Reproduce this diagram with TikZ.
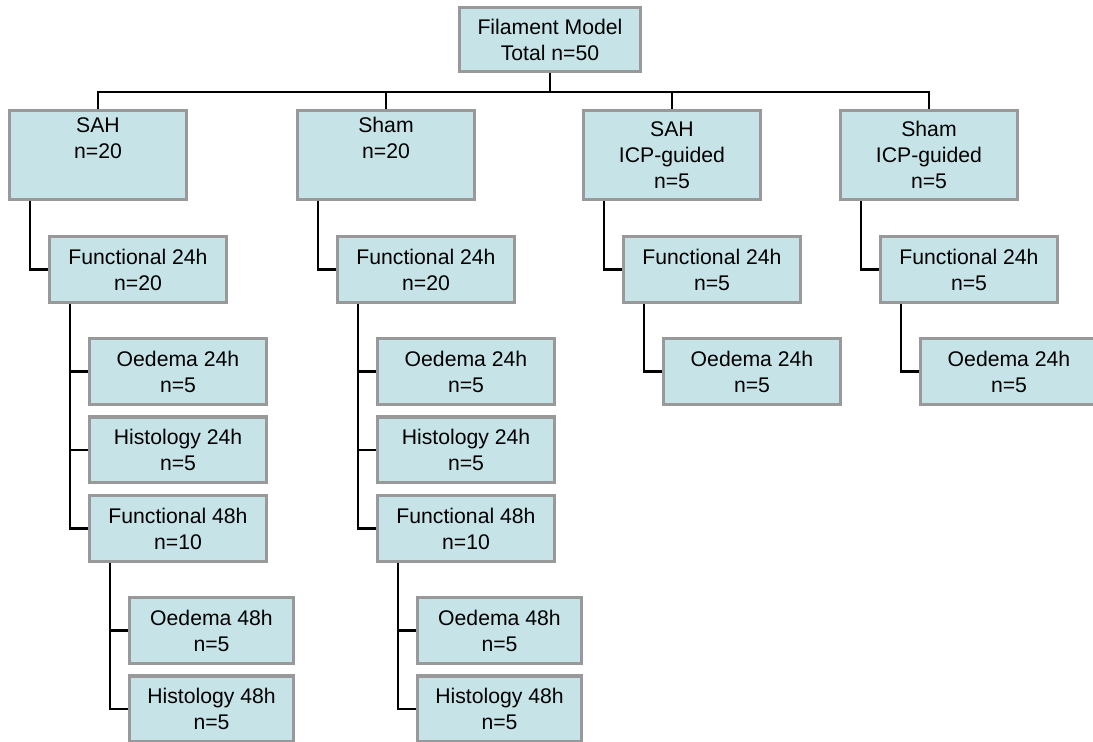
\documentclass[tikz,border=0pt]{standalone}
\usepackage{fontspec}
\setmainfont{Liberation Sans}
\usetikzlibrary{positioning}
\definecolor{boxfill}{RGB}{198,228,232}
\definecolor{boxline}{RGB}{153,153,153}
\tikzset{
	box/.style={draw=boxline,line width=1.6pt,fill=boxfill,align=center,inner sep=0pt,minimum width=88.4pt,minimum height=32.9pt,font=\fontsize{10.6}{13}\selectfont},
	grp/.style={box,minimum height=44.4pt},
	leaf/.style={box,minimum width=81.9pt},
	link/.style={line width=1.35pt}
}
\begin{document}
\begin{tikzpicture}
		\useasboundingbox (0,0) rectangle (546.5pt,-371pt);
		\node[box,minimum width=90.4pt,minimum height=31.9pt](root) at (275pt,-19.75pt) {Filament Model\\Total n=50};
		\node[grp](sah) at (49pt,-77.5pt) {SAH\\n=20\\\strut};
		\node[grp](sham) at (193pt,-77.5pt) {Sham\\n=20\\\strut};
		\node[grp](sahicp) at (336pt,-77.5pt) {SAH\\ICP-guided\\n=5};
		\node[grp](shamicp) at (464.5pt,-77.5pt) {Sham\\ICP-guided\\n=5};
		\node[box,below=17pt of sah.south west,anchor=north west,xshift=20pt](sahF24) {Functional 24h\\n=20};
		\node[box,below=17pt of sham.south west,anchor=north west,xshift=20pt](shamF24) {Functional 24h\\n=20};
		\node[box,below=17pt of sahicp.south west,anchor=north west,xshift=20pt](sahicpF24) {Functional 24h\\n=5};
		\node[box,below=17pt of shamicp.south west,anchor=north west,xshift=20pt](shamicpF24) {Functional 24h\\n=5};
		\node[box,below=16.5pt of sahF24.south west,anchor=north west,xshift=20pt](sahOe24) {Oedema 24h\\n=5};
		\node[box,below=4.75pt of sahOe24](sahHi24) {Histology 24h\\n=5};
		\node[box,below=4.75pt of sahHi24](sahF48) {Functional 48h\\n=10};
		\node[leaf,below=16.5pt of sahF48.south west,anchor=north west,xshift=20pt](sahOe48) {Oedema 48h\\n=5};
		\node[leaf,below=4.75pt of sahOe48](sahHi48) {Histology 48h\\n=5};
		\node[box,below=16.5pt of shamF24.south west,anchor=north west,xshift=20pt](shamOe24) {Oedema 24h\\n=5};
		\node[box,below=4.75pt of shamOe24](shamHi24) {Histology 24h\\n=5};
		\node[box,below=4.75pt of shamHi24](shamF48) {Functional 48h\\n=10};
		\node[leaf,below=16.5pt of shamF48.south west,anchor=north west,xshift=20pt](shamOe48) {Oedema 48h\\n=5};
		\node[leaf,below=4.75pt of shamOe48](shamHi48) {Histology 48h\\n=5};
		\node[box,below=16.5pt of sahicpF24.south west,anchor=north west,xshift=20pt](sahicpOe24) {Oedema 24h\\n=5};
		\node[box,below=16.5pt of shamicpF24.south west,anchor=north west,xshift=20pt](shamicpOe24) {Oedema 24h\\n=5};
		\draw[link] (root.south) -- ++(0,-9.5pt) -| (sah.north);
		\draw[link] (root.south) -- ++(0,-9.5pt) -| (sham.north);
		\draw[link] (root.south) -- ++(0,-9.5pt) -| (sahicp.north);
		\draw[link] (root.south) -- ++(0,-9.5pt) -| (shamicp.north);
		\draw[link] ([xshift=11pt]sah.south west) |- (sahF24.west);
		\draw[link] ([xshift=11pt]sham.south west) |- (shamF24.west);
		\draw[link] ([xshift=11pt]sahicp.south west) |- (sahicpF24.west);
		\draw[link] ([xshift=11pt]shamicp.south west) |- (shamicpF24.west);
		\draw[link] ([xshift=11pt]sahF24.south west) |- (sahOe24.west);
		\draw[link] ([xshift=11pt]sahF24.south west) |- (sahHi24.west);
		\draw[link] ([xshift=11pt]sahF24.south west) |- (sahF48.west);
		\draw[link] ([xshift=11pt]sahF48.south west) |- (sahOe48.west);
		\draw[link] ([xshift=11pt]sahF48.south west) |- (sahHi48.west);
		\draw[link] ([xshift=11pt]shamF24.south west) |- (shamOe24.west);
		\draw[link] ([xshift=11pt]shamF24.south west) |- (shamHi24.west);
		\draw[link] ([xshift=11pt]shamF24.south west) |- (shamF48.west);
		\draw[link] ([xshift=11pt]shamF48.south west) |- (shamOe48.west);
		\draw[link] ([xshift=11pt]shamF48.south west) |- (shamHi48.west);
		\draw[link] ([xshift=11pt]sahicpF24.south west) |- (sahicpOe24.west);
		\draw[link] ([xshift=11pt]shamicpF24.south west) |- (shamicpOe24.west);
	\end{tikzpicture}
\end{document}
